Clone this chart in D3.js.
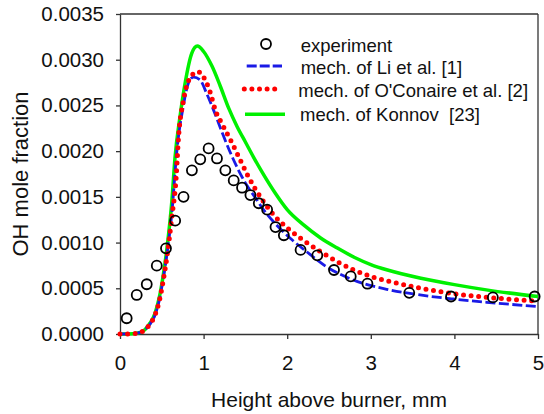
<!DOCTYPE html>
<html lang='en'>
  <head>
    <meta charset='utf-8'>
    <title>OH mole fraction vs height above burner</title>
    <script type='text/javascript' src='https://cdn.jsdelivr.net/npm/d3@7'></script>
    <style type='text/css'>
    body{
      margin: 0;
      background: #fff;
    }
    .axis path,
    .axis line{
      fill: none;
      stroke: #333;
      stroke-width: 1.3;
    }
    .axis text{
      font-family: 'Liberation Sans', Arial, sans-serif;
      font-size: 20.5px;
      fill: #111;
    }
    .title{
      font-family: 'Liberation Sans', Arial, sans-serif;
      fill: #111;
    }
    .legend text{
      font-family: 'Liberation Sans', Arial, sans-serif;
      font-size: 18.5px;
      fill: #111;
      white-space: pre;
    }
    </style>
  </head>
  <body>
    <script type='text/javascript'>

    // experiment
    var expX = [0.08, 0.2, 0.32, 0.44, 0.55, 0.66, 0.76, 0.86, 0.96, 1.06, 1.16, 1.26, 1.36, 1.46,
                1.56, 1.66, 1.76, 1.86, 1.96, 2.16, 2.36, 2.56, 2.76, 2.96, 3.46, 3.96, 4.46, 4.96];
    var expY = [0.000172, 0.000427, 0.000544, 0.000747, 0.000937, 0.00124, 0.00150, 0.00179, 0.00191,
                0.00203, 0.00192, 0.00179, 0.00168, 0.00160, 0.00152, 0.00143, 0.00136, 0.00117,
                0.00108, 0.00092, 0.00086, 0.00070, 0.00063, 0.00055, 0.00045, 0.00041, 0.00040, 0.00041];

    // mech. of Li et al. [1]
    var liX = [0, 0.15, 0.25, 0.3, 0.36, 0.42, 0.47, 0.52, 0.57, 0.62, 0.68, 0.757, 0.817, 0.88, 0.957,
               1.037, 1.136, 1.236, 1.336, 1.435, 1.515, 1.635, 1.7, 1.834, 2.033, 2.233, 2.47, 2.79,
               3.19, 3.589, 3.987, 4.386, 5.0];
    var liY = [0, 0.000003, 0.00002, 0.00005, 0.00011, 0.00021, 0.00037, 0.00062, 0.00093, 0.00132,
               0.00200, 0.00249, 0.00274, 0.00281, 0.00278, 0.00263, 0.00241, 0.00217, 0.00195,
               0.00176, 0.00163, 0.00147, 0.00138, 0.00123, 0.00105, 0.00090, 0.000736, 0.000591,
               0.000489, 0.000427, 0.000383, 0.000347, 0.000300];

    // mech. of O'Conaire et al. [2]
    var ocX = [0, 0.15, 0.25, 0.3, 0.36, 0.42, 0.47, 0.52, 0.57, 0.62, 0.67, 0.70, 0.76, 0.83, 0.93,
               1.0, 1.08, 1.14, 1.22, 1.34, 1.44, 1.53, 1.7, 1.85, 2.0, 2.2, 2.4, 2.6, 2.8, 3.0,
               3.2, 3.6, 4.0, 4.4, 5.0];
    var ocY = [0, 0.000003, 0.00002, 0.00005, 0.00011, 0.00021, 0.00036, 0.00060, 0.00090, 0.00128,
               0.00169, 0.00215, 0.00256, 0.00279, 0.00287, 0.00281, 0.00264, 0.00245, 0.00230,
               0.00209, 0.00190, 0.00173, 0.00147, 0.00129, 0.00116, 0.00102, 0.00090, 0.00079,
               0.00070, 0.00063, 0.00058, 0.00050, 0.00044, 0.00040, 0.00036];

    // mech. of Konnov [23]
    var koX = [0, 0.15, 0.25, 0.3, 0.36, 0.42, 0.47, 0.52, 0.57, 0.62, 0.658, 0.718, 0.778, 0.858,
               0.925, 1.0, 1.1, 1.2, 1.3, 1.4, 1.5, 1.6, 1.7, 1.85, 2.0, 2.2, 2.4, 2.6, 2.8, 3.0,
               3.2, 3.6, 4.0, 4.4, 5.0];
    var koY = [0, 0.000003, 0.00002, 0.00005, 0.00012, 0.00023, 0.00040, 0.00066, 0.00100, 0.00145,
               0.00193, 0.00238, 0.00274, 0.00307, 0.00315, 0.00309, 0.00293, 0.00271, 0.00247,
               0.00227, 0.00210, 0.00193, 0.00177, 0.00155, 0.00136, 0.00119, 0.00105, 0.00094,
               0.00084, 0.00076, 0.00070, 0.00061, 0.00054, 0.00048, 0.00041];

    var xTicks = [0, 1, 2, 3, 4, 5];
    var yTicks = [0, 0.0005, 0.0010, 0.0015, 0.0020, 0.0025, 0.0030, 0.0035];

    var legendLabels = ['experiment', 'mech. of Li et al. [1]', "mech. of O'Conaire et al. [2]", 'mech. of Konnov  [23]'];

    var w = 544;
    var h = 414;
    var padL = 120, padR = 538, padT = 14, padB = 334;

    var svg = d3.select('body')
                .append('svg')
                .attr('width', w)
                .attr('height', h);

    var xScale = d3.scaleLinear()
                   .domain([0, 5])
                   .range([padL, padR]);

    var yScale = d3.scaleLinear()
                   .domain([0, 0.0035])
                   .range([padB, padT]);

    var line = d3.line()
                 .x(function(d){ return xScale(d[0]); })
                 .y(function(d){ return yScale(d[1]); })
                 .curve(d3.curveMonotoneX);

    function pairs(xs, ys){
      return xs.map(function(x, i){ return [x, ys[i]]; });
    }

    // frame (top and right)
    svg.append('line')
       .attr('x1', padL).attr('x2', padR)
       .attr('y1', padT).attr('y2', padT)
       .attr('stroke', '#333').attr('stroke-width', 1.3);
    svg.append('line')
       .attr('x1', padR).attr('x2', padR)
       .attr('y1', padT).attr('y2', padB)
       .attr('stroke', '#333').attr('stroke-width', 1.3);

    var xAxis = d3.axisBottom(xScale)
                  .tickValues(xTicks)
                  .tickFormat(d3.format('d'))
                  .tickSizeInner(5)
                  .tickSizeOuter(0)
                  .tickPadding(16);

    var yAxis = d3.axisLeft(yScale)
                  .tickValues(yTicks)
                  .tickFormat(d3.format('.4f'))
                  .tickSizeInner(4)
                  .tickSizeOuter(0)
                  .tickPadding(12);

    svg.append('g')
       .attr('class', 'x axis')
       .attr('transform', 'translate(0,' + padB + ')')
       .call(xAxis);

    svg.append('g')
       .attr('class', 'y axis')
       .attr('transform', 'translate(' + padL + ',0)')
       .call(yAxis);

    // model curves
    svg.append('path')
       .datum(pairs(koX, koY))
       .attr('d', line)
       .attr('fill', 'none')
       .attr('stroke', '#00f000')
       .attr('stroke-width', 3.5);

    svg.append('path')
       .datum(pairs(liX, liY))
       .attr('d', line)
       .attr('fill', 'none')
       .attr('stroke', '#1a1ae6')
       .attr('stroke-width', 2.8)
       .attr('stroke-dasharray', '10,3.5');

    svg.append('path')
       .datum(pairs(ocX, ocY))
       .attr('d', line)
       .attr('fill', 'none')
       .attr('stroke', '#ff0000')
       .attr('stroke-width', 5)
       .attr('stroke-linecap', 'round')
       .attr('stroke-dasharray', '0,7.6');

    // experiment circles
    svg.selectAll('circle.exp')
       .data(pairs(expX, expY))
       .enter()
       .append('circle')
       .attr('class', 'exp')
       .attr('cx', function(d){ return xScale(d[0]); })
       .attr('cy', function(d){ return yScale(d[1]); })
       .attr('r', 5)
       .attr('fill', 'none')
       .attr('stroke', '#000')
       .attr('stroke-width', 1.8);

    // axis titles
    svg.append('text')
       .attr('class', 'title')
       .attr('x', (padL + padR) / 2)
       .attr('y', 406.5)
       .attr('text-anchor', 'middle')
       .attr('font-size', '21px')
       .text('Height above burner, mm');

    svg.append('text')
       .attr('class', 'title')
       .attr('transform', 'translate(28,' + (padT + padB) / 2 + ') rotate(-90)')
       .attr('text-anchor', 'middle')
       .attr('font-size', '22px')
       .text('OH mole fraction');

    // legend
    var lg = svg.append('g').attr('class', 'legend');
    var markY = [44, 66, 89, 114.3];
    var textY = [52, 73.5, 97, 120.5];
    var textX = [300.7, 300.7, 298.3, 300];

    lg.append('circle')
      .attr('cx', 266).attr('cy', markY[0]).attr('r', 5)
      .attr('fill', 'none').attr('stroke', '#000').attr('stroke-width', 1.8);
    lg.append('line')
      .attr('x1', 246.7).attr('x2', 282).attr('y1', markY[1]).attr('y2', markY[1])
      .attr('stroke', '#1a1ae6').attr('stroke-width', 2.8).attr('stroke-dasharray', '10,3');
    lg.append('line')
      .attr('x1', 244.3).attr('x2', 275).attr('y1', markY[2]).attr('y2', markY[2])
      .attr('stroke', '#ff0000').attr('stroke-width', 5)
      .attr('stroke-linecap', 'round').attr('stroke-dasharray', '0,7.6');
    lg.append('line')
      .attr('x1', 245).attr('x2', 285).attr('y1', markY[3]).attr('y2', markY[3])
      .attr('stroke', '#00f000').attr('stroke-width', 3.5);

    lg.selectAll('text')
      .data(legendLabels)
      .enter()
      .append('text')
      .attr('x', function(d, i){ return textX[i]; })
      .attr('y', function(d, i){ return textY[i]; })
      .text(function(d){ return d; });

    </script>
  </body>
</html>
